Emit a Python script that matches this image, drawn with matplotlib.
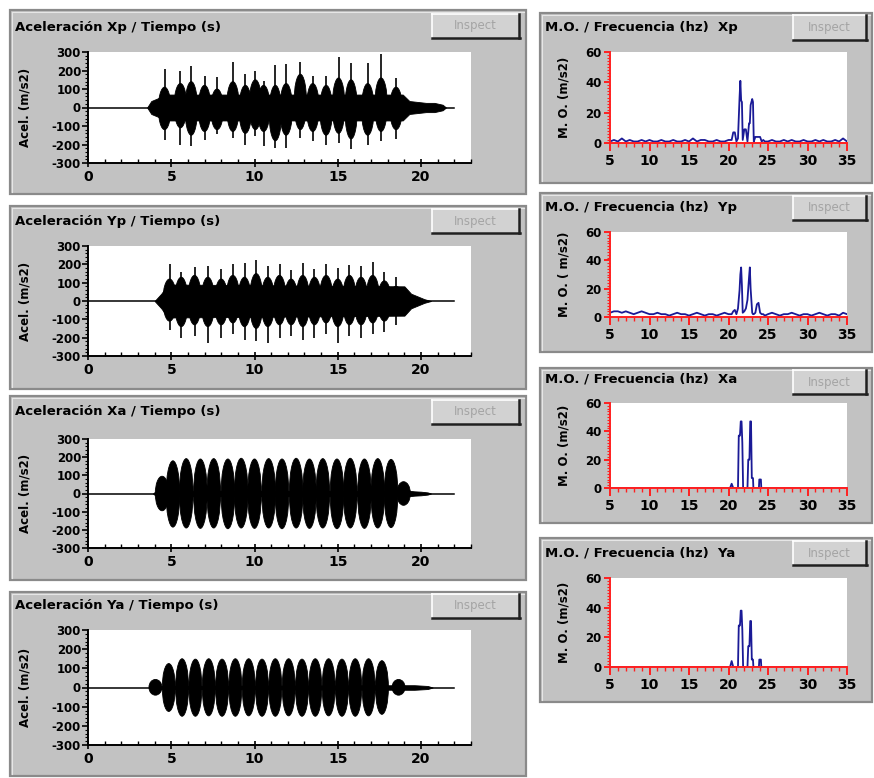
import matplotlib
matplotlib.use('Agg')
import matplotlib.pyplot as plt
from matplotlib.patches import Rectangle, Ellipse
from matplotlib.lines import Line2D
from matplotlib.ticker import MultipleLocator

plt.rcParams['axes.unicode_minus'] = False
plt.rcParams['font.family'] = ['DejaVu Sans']

# ---- time signals (envelopes) ----
line_t = [0, 22]
line_v = [0, 0]

xp_band_t = [3.55, 3.8, 4.2, 4.5, 18.9, 19.3, 19.8, 20.3, 20.8, 21.3, 21.5]
xp_band_hi = [0, 35, 50, 70, 70, 35, 30, 25, 25, 15, 0]
xp_band_lo = [0, -35, -50, -70, -70, -35, -30, -25, -25, -15, 0]
xp_burst_t = [4.6, 5.55, 6.2, 7.0, 7.75, 8.7, 9.45, 10.05, 10.55, 11.25, 11.9, 12.75,
              13.5, 14.3, 15.05, 15.8, 16.8, 17.6, 18.5]
xp_core_hi = [110, 130, 140, 120, 100, 140, 120, 150, 120, 120, 130, 180, 130, 120, 160, 150, 130, 160, 110]
xp_core_lo = [-120, -110, -150, -130, -120, -130, -140, -120, -130, -180, -150, -120, -130, -150, -140,
              -170, -150, -130, -120]
xp_spike_hi = [206, 200, 225, 170, 165, 247, 180, 200, 145, 228, 236, 247, 170, 170, 272, 238, 240, 291, 162]
xp_spike_lo = [-173, -200, -208, -173, -145, -167, -200, -155, -208, -217, -217, -165, -180, -203, -190,
               -225, -200, -180, -168]

yp_band_t = [4.0, 4.4, 4.8, 19.0, 19.4, 19.8, 20.2, 20.6]
yp_band_hi = [0, 40, 90, 80, 40, 25, 10, 0]
yp_band_lo = [0, -40, -90, -80, -40, -25, -10, 0]
yp_burst_t = [4.9, 5.6, 6.4, 7.2, 8.0, 8.7, 9.4, 10.1, 10.8, 11.5, 12.2, 12.9, 13.6, 14.3, 15.0,
              15.7, 16.4, 17.1, 17.8, 18.5]
yp_core_hi = [120, 130, 140, 130, 120, 140, 130, 150, 130, 140, 120, 140, 130, 140, 120, 140, 130, 140, 110, 80]
yp_core_lo = [-110, -140, -130, -140, -130, -120, -140, -150, -140, -130, -130, -140, -130, -120, -140,
              -130, -130, -120, -110, -80]
yp_spike_hi = [200, 160, 185, 190, 175, 200, 210, 225, 190, 200, 170, 205, 175, 200, 180, 195, 190, 215, 160, 130]
yp_spike_lo = [-160, -200, -190, -230, -200, -180, -210, -220, -230, -200, -190, -210, -200, -180, -230,
               -190, -200, -180, -170, -130]

xa_band_t = [3.9, 4.1, 19.3, 19.6, 20.0, 20.4, 20.6]
xa_band_hi = [0, 15, 15, 12, 10, 6, 0]
xa_band_lo = [0, -15, -15, -12, -10, -6, 0]
xa_burst_t = [4.45, 5.1, 5.9, 6.75, 7.55, 8.4, 9.2, 10.0, 10.85, 11.65, 12.5, 13.3, 14.1, 14.95,
              15.75, 16.6, 17.4, 18.2, 18.95]
xa_hi = [95, 180, 192, 190, 192, 190, 194, 190, 192, 190, 194, 190, 192, 190, 194, 190, 192, 188, 65]
xa_lo = [-95, -185, -190, -192, -190, -194, -190, -192, -190, -194, -190, -192, -190, -194, -190,
         -192, -190, -188, -65]

ya_band_t = [3.7, 3.9, 19.2, 19.6, 20.0, 20.4, 20.7]
ya_band_hi = [0, 8, 12, 12, 10, 8, 0]
ya_band_lo = [0, -8, -12, -12, -10, -8, 0]
ya_burst_t = [4.05, 4.85, 5.65, 6.45, 7.25, 8.05, 8.85, 9.65, 10.45, 11.25, 12.05, 12.85, 13.65,
              14.45, 15.25, 16.05, 16.85, 17.65, 18.65]
ya_hi = [42, 125, 150, 148, 150, 148, 150, 150, 148, 150, 150, 148, 150, 150, 148, 150, 150, 140, 42]
ya_lo = [-40, -125, -150, -150, -148, -150, -150, -148, -150, -150, -148, -150, -150, -148, -150,
         -150, -148, -140, -40]

# ---- spectra ----
sp_f = [5, 5.5, 6, 6.5, 7, 7.5, 8, 8.5, 9, 9.5, 10, 10.5, 11, 11.5, 12, 12.5, 13, 13.5, 14, 14.5,
        15, 15.5, 16, 16.5, 17, 17.5, 18, 18.5, 19, 19.5, 20,
        20.4, 20.6, 20.8, 21.0, 21.2, 21.4, 21.5, 21.6, 21.7, 21.8, 22.0, 22.2, 22.4, 22.6, 22.7,
        22.8, 23.0, 23.1, 23.2, 23.4, 23.6, 23.8, 24.0, 24.2, 24.4, 24.6,
        25, 25.5, 26, 26.5, 27, 27.5, 28, 28.5, 29, 29.5, 30, 30.5, 31, 31.5, 32, 32.5, 33, 33.5,
        34, 34.5, 35]
xp_mo = [1, 2, 1, 3, 1, 2, 1, 1, 2, 1, 2, 1, 1, 2, 1, 1, 2, 1, 1, 2, 1, 3, 1, 2, 2, 1, 1, 2, 1, 1, 2,
         2, 7, 7, 1, 3, 30, 41, 28, 27, 2, 9, 9, 1, 13, 13, 25, 29, 27, 1, 4, 4, 4, 4, 1, 2, 1,
         1, 2, 1, 1, 2, 1, 2, 1, 1, 2, 1, 1, 2, 1, 2, 1, 1, 2, 1, 3, 1]
yp_mo = [3, 4, 4, 3, 4, 3, 2, 3, 4, 3, 2, 2, 3, 2, 2, 1, 2, 3, 2, 2, 1, 2, 3, 2, 1, 2, 2, 1, 2, 3, 2,
         2, 4, 5, 2, 6, 19, 30, 35, 22, 3, 4, 6, 12, 28, 35, 20, 3, 2, 2, 3, 9, 10, 3, 2, 2, 1,
         2, 3, 2, 1, 2, 2, 3, 2, 1, 2, 2, 1, 2, 3, 2, 1, 2, 2, 1, 3, 2]

xa_f = [5, 20.2, 20.4, 20.6, 21.2, 21.3, 21.45, 21.55, 21.65, 21.75, 21.85, 22.4, 22.5, 22.65,
        22.75, 22.85, 22.95, 23.1, 23.15, 23.85, 23.9, 24.1, 24.15, 35]
xa_mo = [0, 0, 3, 0, 0, 37, 37, 47, 47, 32, 0, 0, 20, 20, 47, 47, 7, 7, 0, 0, 6, 6, 0, 0]
ya_f = [5, 20.2, 20.4, 20.6, 21.2, 21.3, 21.45, 21.55, 21.65, 21.75, 21.85, 22.4, 22.5, 22.65,
        22.75, 22.85, 22.95, 23.1, 23.15, 23.85, 23.9, 24.1, 24.15, 35]
ya_mo = [0, 0, 4, 0, 0, 28, 28, 38, 38, 25, 0, 0, 14, 14, 31, 31, 5, 5, 0, 0, 5, 5, 0, 0]

W, H = 874, 778
fig = plt.figure(figsize=(W / 100, H / 100), dpi=100)
fig.patch.set_facecolor('white')


def fx(x):
    return x / W


def fy(y):
    return 1 - y / H


def rect(x0, y0, x1, y1, **kw):
    fig.add_artist(Rectangle((fx(x0), fy(y1)), fx(x1) - fx(x0), fy(y0) - fy(y1),
                             transform=fig.transFigure, **kw))


def hline(x0, x1, y, **kw):
    fig.add_artist(Line2D([fx(x0), fx(x1)], [fy(y), fy(y)], transform=fig.transFigure, **kw))


def vline(x, y0, y1, **kw):
    fig.add_artist(Line2D([fx(x), fx(x)], [fy(y0), fy(y1)], transform=fig.transFigure, **kw))


def panel(box, title, title_y, button, plot, ylabel, ylabel_x):
    x0, y0, x1, y1 = box
    rect(x0, y0, x1, y1, facecolor='#c2c2c2', edgecolor='#8a8a8a', lw=1.6)
    hline(x0 + 2, x1 - 2, y0 + 2, color='#e6e6e6', lw=0.8)
    vline(x0 + 2, y0 + 2, y1 - 2, color='#e6e6e6', lw=0.8)
    fig.text(fx(x0 + 5), fy(title_y), title, fontsize=9.5, fontweight='bold',
             va='center', ha='left')
    bx0, by0, bx1, by1 = button
    rect(bx0, by0, bx1, by1, facecolor='#d2d2d2', edgecolor='none')
    hline(bx0, bx1, by0, color='white', lw=1.2)
    vline(bx0, by0, by1, color='white', lw=1.2)
    hline(bx0, bx1 + 1, by1, color='#202020', lw=1.8)
    vline(bx1, by0, by1, color='#202020', lw=1.8)
    fig.text(fx((bx0 + bx1) / 2), fy((by0 + by1) / 2), 'Inspect', fontsize=8.5,
             color='#a4a4a4', ha='center', va='center')
    px0, py0, px1, py1 = plot
    ax = fig.add_axes([fx(px0), fy(py1), fx(px1) - fx(px0), fy(py0) - fy(py1)])
    ax.set_zorder(10)
    ax.set_facecolor('white')
    for s in ['top', 'right']:
        ax.spines[s].set_visible(False)
    fig.text(fx(ylabel_x), fy((py0 + py1) / 2), ylabel, rotation=90, fontsize=8.5,
             fontweight='bold', ha='center', va='center')
    return ax


def style_ticks(ax, color):
    for s in ['left', 'bottom']:
        ax.spines[s].set_linewidth(1.4)
        ax.spines[s].set_color(color)
    for lbl in ax.get_xticklabels():
        lbl.set_fontweight('bold')
        lbl.set_fontsize(10)
    for lbl in ax.get_yticklabels():
        lbl.set_fontweight('bold')
        lbl.set_fontsize(8.5)


def time_plot(ax, band_t, band_hi, band_lo, burst_t, core_hi, core_lo,
              spike_hi=None, spike_lo=None, width=0.65):
    ax.plot(line_t, line_v, color='black', lw=1.1)
    ax.fill_between(band_t, band_lo, band_hi, color='black', lw=0.6)
    for t, hi, lo in zip(burst_t, core_hi, core_lo):
        ax.add_patch(Ellipse((t, (hi + lo) / 2), width, hi - lo, facecolor='black',
                             edgecolor='black', lw=0.6))
    if spike_hi is not None:
        ax.vlines(burst_t, spike_lo, spike_hi, color='black', lw=1.2)
    ax.set_xlim(0, 23)
    ax.set_ylim(-300, 300)
    ax.xaxis.set_major_locator(MultipleLocator(5))
    ax.xaxis.set_minor_locator(MultipleLocator(1))
    ax.yaxis.set_major_locator(MultipleLocator(100))
    ax.yaxis.set_minor_locator(MultipleLocator(20))
    ax.tick_params(axis='x', which='major', direction='inout', length=6, width=1.2, pad=2)
    ax.tick_params(axis='x', which='minor', direction='in', length=3, width=1)
    ax.tick_params(axis='y', which='major', direction='out', length=4, width=1.2, pad=1)
    ax.tick_params(axis='y', which='minor', direction='out', length=2, width=0.8)
    style_ticks(ax, 'black')


def spec_plot(ax, f, mo):
    ax.plot(f, mo, color='#1a1a96', lw=1.3)
    ax.set_xlim(5, 35)
    ax.set_ylim(0, 60)
    ax.xaxis.set_major_locator(MultipleLocator(5))
    ax.xaxis.set_minor_locator(MultipleLocator(1))
    ax.yaxis.set_major_locator(MultipleLocator(20))
    ax.yaxis.set_minor_locator(MultipleLocator(2))
    ax.tick_params(axis='x', which='major', direction='out', length=6, width=1.4,
                   color='#ff2020', pad=2)
    ax.tick_params(axis='x', which='minor', direction='out', length=3, width=1, color='#ff2020')
    ax.tick_params(axis='y', which='major', direction='out', length=4, width=1.4,
                   color='#ff2020', pad=2)
    ax.tick_params(axis='y', which='minor', direction='out', length=2, width=0.8, color='#ff2020')
    style_ticks(ax, '#ff2020')


# left column: acceleration vs time
ax = panel((10, 10, 526, 194), 'Aceleración Xp / Tiempo (s)', 27, (432, 14, 519, 38),
           (88, 52, 471, 163), 'Acel. (m/s2)', 25)
time_plot(ax, xp_band_t, xp_band_hi, xp_band_lo, xp_burst_t, xp_core_hi, xp_core_lo,
          xp_spike_hi, xp_spike_lo, 0.75)

ax = panel((10, 206, 526, 389), 'Aceleración Yp / Tiempo (s)', 222, (432, 209, 519, 233),
           (88, 246, 471, 356), 'Acel. (m/s2)', 25)
time_plot(ax, yp_band_t, yp_band_hi, yp_band_lo, yp_burst_t, yp_core_hi, yp_core_lo,
          yp_spike_hi, yp_spike_lo, 0.8)

ax = panel((10, 396, 526, 580), 'Aceleración Xa / Tiempo (s)', 412, (432, 400, 519, 424),
           (88, 439, 471, 548), 'Acel. (m/s2)', 25)
time_plot(ax, xa_band_t, xa_band_hi, xa_band_lo, xa_burst_t, xa_hi, xa_lo, width=0.82)

ax = panel((10, 592, 526, 776), 'Aceleración Ya / Tiempo (s)', 605, (432, 594, 519, 618),
           (88, 630, 471, 745), 'Acel. (m/s2)', 25)
time_plot(ax, ya_band_t, ya_band_hi, ya_band_lo, ya_burst_t, ya_hi, ya_lo, width=0.78)

# right column: spectra
ax = panel((540, 13, 872, 183), 'M.O. / Frecuencia (hz)  Xp', 27, (793, 15, 866, 40),
           (610, 52, 847, 143), 'M. O. (m/s2)', 564)
spec_plot(ax, sp_f, xp_mo)

ax = panel((540, 193, 872, 352), 'M.O. / Frecuencia (hz)  Yp', 208, (793, 196, 866, 220),
           (610, 232, 847, 317), 'M. O. ( m/s2)', 564)
spec_plot(ax, sp_f, yp_mo)

ax = panel((540, 368, 872, 523), 'M.O. / Frecuencia (hz)  Xa', 379, (793, 370, 866, 394),
           (610, 403, 847, 488), 'M. O. (m/s2)', 564)
spec_plot(ax, xa_f, xa_mo)

ax = panel((540, 538, 872, 702), 'M.O. / Frecuencia (hz)  Ya', 553, (793, 541, 866, 565),
           (610, 578, 847, 667), 'M. O. (m/s2)', 564)
spec_plot(ax, ya_f, ya_mo)

fig.savefig('out.png', dpi=100, facecolor='white')
